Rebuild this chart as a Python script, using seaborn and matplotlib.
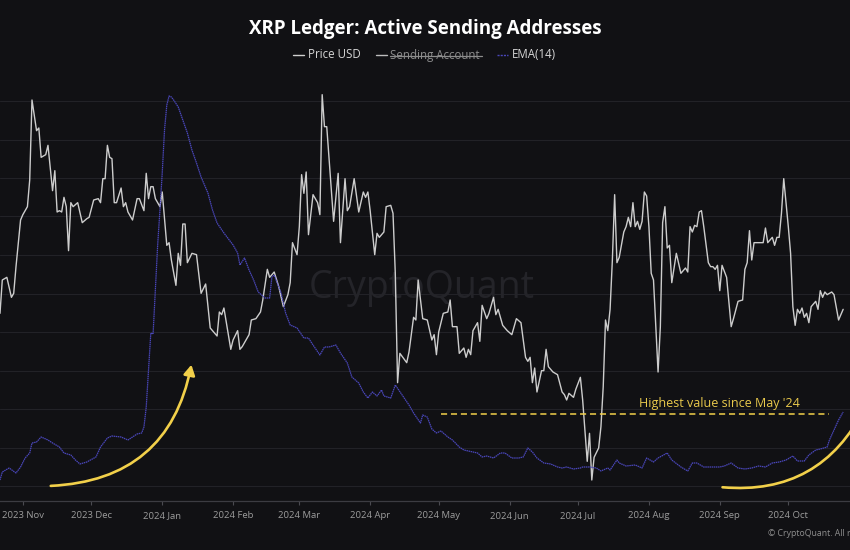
import numpy as np
import pandas as pd
import matplotlib
matplotlib.use("Agg")
import matplotlib.pyplot as plt
import matplotlib.dates as mdates
from matplotlib.patches import FancyArrowPatch
from matplotlib.lines import Line2D
import seaborn as sns

# day offsets are counted from START (daily data)
START = pd.Timestamp("2023-10-22")
END_DAY = 372

price_day = [
    0, 1, 3, 5, 6, 7, 9, 10, 12, 13,
    14, 16, 17, 18, 20, 21, 23, 24, 25, 26,
    27, 28, 29, 30, 31, 32, 34, 36, 38, 39,
    41, 43, 44, 45, 46, 47, 48, 49, 50, 51,
    53, 54, 55, 56, 58, 60, 61, 63, 64, 65,
    66, 67, 68, 70, 71, 73, 74, 75, 77, 78,
    79, 80, 81, 82, 84, 86, 88, 90, 92, 95,
    96, 97, 98, 101, 102, 104, 105, 106, 109, 110,
    112, 114, 115, 117, 118, 120, 122, 124, 126, 127,
    128, 130, 131, 132, 133, 134, 135, 137, 139, 140,
    141, 142, 143, 146, 148, 149, 151, 152, 153, 155,
    157, 159, 160, 161, 162, 164, 165, 166, 168, 169,
    171, 172, 173, 174, 175, 178, 179, 181, 182, 183,
    185, 187, 189, 190, 191, 192, 194, 196, 197, 198,
    200, 201, 203, 204, 205, 206, 207, 209, 210, 211,
    213, 214, 216, 217, 218, 220, 222, 224, 226, 228,
    230, 231, 232, 233, 234, 235, 237, 238, 239, 240,
    242, 244, 246, 247, 248, 249, 251, 252, 254, 255,
    257, 258, 259, 260, 262, 263, 264, 265, 266, 267,
    268, 269, 270, 271, 273, 274, 275, 276, 277, 278,
    279, 280, 281, 282, 283, 284, 285, 286, 288, 289,
    290, 291, 292, 293, 294, 296, 298, 300, 301, 302,
    303, 304, 305, 306, 307, 308, 310, 311, 312, 313,
    314, 315, 316, 318, 320, 321, 323, 325, 326, 327,
    328, 329, 330, 331, 333, 334, 335, 336, 338, 339,
    340, 341, 342, 343, 345, 346, 347, 348, 349, 350,
    351, 352, 353, 354, 355, 357, 358, 359, 360, 361,
    362, 363, 364, 365, 367, 369,
]
price_usd = [
    0.535, 0.560, 0.562, 0.547, 0.550, 0.570, 0.605, 0.609, 0.615, 0.635,
    0.695, 0.672, 0.674, 0.652, 0.654, 0.661, 0.627, 0.642, 0.611, 0.612,
    0.611, 0.622, 0.615, 0.582, 0.618, 0.615, 0.618, 0.603, 0.606, 0.607,
    0.620, 0.621, 0.618, 0.636, 0.636, 0.661, 0.652, 0.651, 0.618, 0.618,
    0.629, 0.615, 0.618, 0.611, 0.605, 0.621, 0.621, 0.612, 0.640, 0.621,
    0.630, 0.630, 0.621, 0.615, 0.626, 0.586, 0.588, 0.575, 0.556, 0.580,
    0.571, 0.602, 0.602, 0.573, 0.580, 0.579, 0.550, 0.557, 0.524, 0.518,
    0.536, 0.534, 0.539, 0.508, 0.515, 0.522, 0.508, 0.510, 0.519, 0.530,
    0.531, 0.536, 0.545, 0.568, 0.562, 0.566, 0.555, 0.540, 0.549, 0.558,
    0.588, 0.579, 0.600, 0.639, 0.625, 0.641, 0.594, 0.624, 0.618, 0.609,
    0.699, 0.675, 0.675, 0.604, 0.640, 0.588, 0.636, 0.612, 0.615, 0.636,
    0.611, 0.626, 0.622, 0.626, 0.612, 0.579, 0.595, 0.592, 0.596, 0.615,
    0.616, 0.610, 0.565, 0.483, 0.505, 0.498, 0.506, 0.532, 0.530, 0.560,
    0.531, 0.530, 0.515, 0.519, 0.504, 0.521, 0.535, 0.536, 0.545, 0.525,
    0.525, 0.505, 0.509, 0.502, 0.508, 0.504, 0.522, 0.528, 0.514, 0.541,
    0.531, 0.535, 0.547, 0.534, 0.538, 0.526, 0.522, 0.519, 0.531, 0.528,
    0.502, 0.499, 0.502, 0.483, 0.494, 0.476, 0.492, 0.492, 0.508, 0.495,
    0.491, 0.489, 0.476, 0.474, 0.470, 0.475, 0.472, 0.478, 0.487, 0.470,
    0.424, 0.445, 0.410, 0.427, 0.434, 0.450, 0.480, 0.530, 0.522, 0.538,
    0.575, 0.624, 0.573, 0.577, 0.596, 0.600, 0.607, 0.600, 0.618, 0.600,
    0.604, 0.598, 0.604, 0.626, 0.623, 0.600, 0.565, 0.560, 0.491, 0.525,
    0.603, 0.615, 0.584, 0.586, 0.558, 0.580, 0.565, 0.569, 0.566, 0.600,
    0.596, 0.601, 0.600, 0.611, 0.612, 0.600, 0.573, 0.570, 0.570, 0.568,
    0.571, 0.552, 0.571, 0.562, 0.525, 0.531, 0.544, 0.545, 0.568, 0.573,
    0.597, 0.575, 0.588, 0.588, 0.588, 0.588, 0.599, 0.588, 0.592, 0.586,
    0.592, 0.592, 0.610, 0.636, 0.600, 0.580, 0.540, 0.526, 0.538, 0.535,
    0.539, 0.532, 0.535, 0.528, 0.540, 0.544, 0.538, 0.552, 0.547, 0.551,
    0.549, 0.550, 0.551, 0.549, 0.530, 0.538,
]

ema_day = [
    0, 1, 4, 7, 9, 11, 13, 14, 16, 18,
    21, 23, 26, 28, 31, 33, 35, 38, 42, 44,
    47, 49, 53, 56, 58, 60, 62, 63, 64, 65,
    66, 67, 68, 69, 70, 71, 72, 73, 74, 75,
    76, 78, 80, 82, 84, 86, 88, 91, 93, 95,
    98, 102, 104, 105, 107, 109, 111, 113, 116, 118,
    119, 120, 123, 125, 127, 130, 133, 135, 137, 140,
    142, 144, 147, 149, 152, 154, 157, 159, 161, 163,
    165, 167, 168, 171, 173, 176, 179, 181, 184, 185,
    187, 189, 191, 193, 196, 198, 201, 203, 207, 209,
    211, 213, 216, 219, 221, 224, 227, 229, 231, 233,
    235, 238, 241, 244, 246, 248, 251, 254, 255, 258,
    261, 263, 266, 267, 270, 271, 274, 278, 281, 283,
    286, 288, 292, 294, 298, 301, 303, 305, 308, 312,
    315, 317, 320, 323, 326, 329, 332, 335, 338, 341,
    344, 347, 349, 352, 354, 357, 359, 362, 363, 365,
    367, 369,
]
ema_sending = [
    4000, 4800, 5200, 4700, 5300, 6200, 6700, 7700, 7800, 8300,
    8000, 7700, 7300, 6700, 6500, 6000, 5600, 5800, 6300, 7300,
    8200, 8400, 8300, 8000, 8300, 8600, 8700, 9300, 11300, 15000,
    18700, 18600, 23000, 27500, 31000, 34700, 39000, 41500, 42400, 42300,
    42000, 41300, 40000, 38700, 37000, 35700, 34300, 32700, 31000, 29700,
    28700, 27500, 26700, 25500, 26200, 25000, 24000, 22800, 22200, 22200,
    24300, 24500, 22700, 20700, 19500, 19200, 18200, 18200, 17500, 16500,
    17300, 17300, 17500, 16700, 15700, 14300, 13700, 12800, 12200, 12800,
    12400, 13000, 12400, 12200, 13500, 12500, 11500, 10700, 9700, 10500,
    10300, 9100, 8700, 8900, 8300, 8000, 7300, 7000, 6800, 6700,
    6300, 6400, 6200, 6700, 6700, 6200, 6200, 6300, 7200, 6800,
    6200, 5700, 5600, 5300, 5200, 5300, 5100, 5200, 5300, 5300,
    5200, 4900, 5200, 5000, 6000, 5700, 5400, 5500, 5200, 6200,
    5800, 6200, 6700, 6000, 5300, 4900, 5700, 5700, 5300, 5300,
    5300, 5400, 5700, 5200, 5100, 5200, 5400, 5300, 5700, 5800,
    6000, 6400, 5900, 5900, 6500, 7000, 7100, 7300, 8000, 9000,
    10000, 10800,
]
assert len(price_day) == len(price_usd) and len(ema_day) == len(ema_sending)

HIGH_LEVEL = 10600
HIGH_FROM, HIGH_TO = 193, 363
NOTE = "Highest value since May '24"

BG = "#111114"
GRID = "#222227"
PRICE_C = "#cdcdcd"
EMA_C = "#4a47bc"
YELLOW = "#f2d04a"

sns.set_theme(style="dark", rc={"axes.facecolor": BG, "figure.facecolor": BG})
plt.rcParams["font.family"] = ["Open Sans", "DejaVu Sans"]


def to_date(days):
    return START + pd.to_timedelta(days, unit="D")


price_df = pd.DataFrame({"date": to_date(price_day), "price": price_usd})
ema_df = pd.DataFrame({"date": to_date(ema_day), "ema": ema_sending})

fig = plt.figure(figsize=(8.5, 5.5), dpi=100, facecolor=BG)
ax = fig.add_axes([0, 1 - 501 / 550, 1, 416 / 550])
ax.set_facecolor(BG)

sns.lineplot(data=price_df, x="date", y="price", ax=ax, color=PRICE_C,
             lw=1.0, estimator=None, zorder=3)
ax.set_ylim(0.39425, 0.70625)
ax.set_yticks(0.69425 - 0.028875 * np.arange(11))
ax.tick_params(axis="y", left=False, labelleft=False)
ax.grid(axis="y", color=GRID, lw=0.8)
ax.grid(axis="x", visible=False)

ax2 = ax.twinx()
sns.lineplot(data=ema_df, x="date", y="ema", ax=ax2, color=EMA_C,
             lw=0.9, estimator=None, zorder=2, linestyle=(0, (1.2, 0.5)))
ax2.set_ylim(1900, 43500)
ax2.set_yticks([])
ax2.grid(False)
for s in ax2.spines.values():
    s.set_visible(False)

for name, s in ax.spines.items():
    s.set_visible(name == "bottom")
ax.spines["bottom"].set_color("#3c3c42")
ax.spines["bottom"].set_linewidth(0.9)

ax.set_xlim(START, to_date(END_DAY))
ax.xaxis.set_major_locator(mdates.MonthLocator())
ax.xaxis.set_major_formatter(mdates.DateFormatter("%Y %b"))
ax.tick_params(axis="x", bottom=True, length=3, width=0.8, color="#4a4a50",
               labelcolor="#9c9c9c", labelsize=6.8, pad=4)
ax.set_xlabel("")
ax.set_ylabel("")
ax2.set_ylabel("")

# highest-value marker
ax2.hlines(HIGH_LEVEL, to_date(HIGH_FROM), to_date(HIGH_TO), colors=YELLOW,
           linestyles=(0, (4, 2.5)), lw=1.1, zorder=4)
ax2.text(to_date(315), 11700, NOTE, color="#e9c94c", fontsize=9,
         ha="center", va="center", zorder=5)

# hand-drawn style arrows
d = mdates.date2num
arrow = FancyArrowPatch((d(to_date(21)), 3400), (d(to_date(84)), 15800),
                        connectionstyle="arc3,rad=0.4",
                        arrowstyle="-|>,head_length=0.5,head_width=0.28",
                        mutation_scale=12, color=YELLOW, lw=1.9, zorder=6)
ax2.add_patch(arrow)
arc = FancyArrowPatch((d(to_date(315)), 3300), (d(to_date(379)), 11500),
                      connectionstyle="arc3,rad=0.35", arrowstyle="-",
                      color=YELLOW, lw=1.9, zorder=6)
ax2.add_patch(arc)

# watermark
ax.text(0.4965, 0.512, "CryptoQuant", transform=ax.transAxes, fontsize=27,
        color="#242429", ha="center", va="center", zorder=1)

# title + legend
fig.text(0.5, 1 - 29 / 550, "XRP Ledger: Active Sending Addresses",
         color="white", fontsize=13.5, fontweight="bold", ha="center", va="center")
ly = 1 - 55 / 550
fig.add_artist(Line2D([293 / 850, 304 / 850], [ly, ly], color="#cfcfcf", lw=1))
fig.text(308 / 850, ly, "Price USD", color="#d6d6d6", fontsize=8.3, va="center")
fig.add_artist(Line2D([376 / 850, 387 / 850], [ly, ly], color="#bdbdbd", lw=1))
fig.text(390 / 850, ly, "Sending Account", color="#8c8c8c", fontsize=8.3, va="center")
fig.add_artist(Line2D([390 / 850, 482 / 850], [ly - 0.001, ly - 0.001], color="#8c8c8c", lw=0.9))
fig.add_artist(Line2D([497 / 850, 508 / 850], [ly, ly], color=EMA_C, lw=1,
                      linestyle=(0, (1.5, 0.8))))
fig.text(512 / 850, ly, "EMA(14)", color="#d6d6d6", fontsize=8.3, va="center")

# footer credit runs off the right edge, as in the source image
fig.text(768 / 850, 1 - 533 / 550, "\u00a9 CryptoQuant. All rights reserved.",
         color="#8e8e8e", fontsize=6.3, ha="left", va="center")

fig.savefig("out.png", dpi=100, facecolor=BG)
